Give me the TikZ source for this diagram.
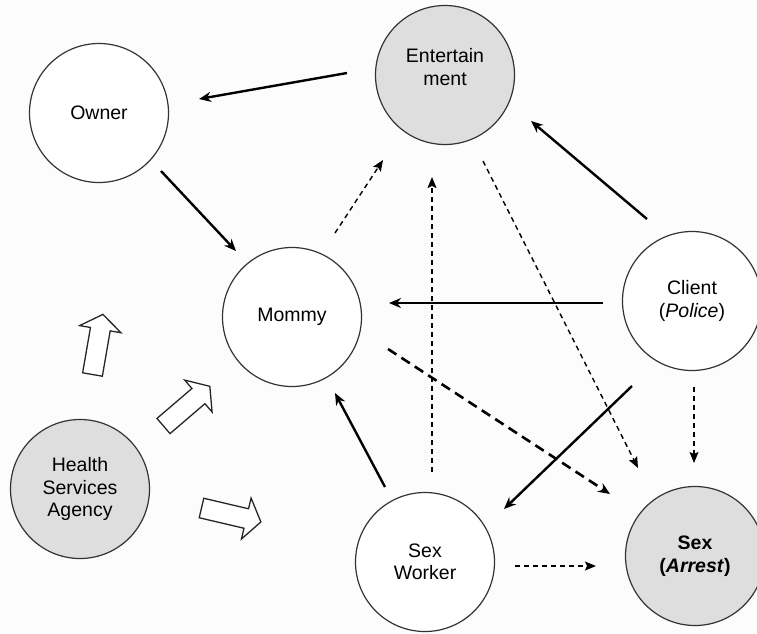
\documentclass[tikz,border=0pt]{standalone}
\usepackage{fontspec}
\setmainfont{Liberation Sans}
\usetikzlibrary{arrows.meta}
\begin{document}
\begin{tikzpicture}[x=1pt,y=-1pt,
  actor/.style={circle,draw=black!80,line width=1.2pt,minimum size=139pt,inner sep=0pt,align=center,
    font=\fontsize{19.5}{22.5}\selectfont},
  shaded/.style={actor,fill=black!13},
  plain/.style={actor,fill=white},
  solidarrow/.style={line width=2.4pt,-{Stealth[length=12pt,width=10pt]}},
  thindash/.style={line width=1.4pt,dash pattern=on 5pt off 4pt,-{Stealth[length=11pt,width=9pt,inset=2pt]}},
  thickdash/.style={line width=2.6pt,dash pattern=on 10pt off 6pt,-{Stealth[length=12pt,width=10pt]}},
  blockarrow/.style={draw=black!85,line width=1.3pt,fill=white,line join=miter}]
\useasboundingbox (0,0) rectangle (757,633);
\fill[black!1] (0,0) rectangle (757,633);

% actors
\node[plain]  (owner)  at (99,113)  {Owner};
\node[shaded] (ent)    at (445,75)  {Entertain\\ment\\[-6pt]};
\node[plain]  (mommy)  at (292,317) {Mommy};
\node[plain]  (client) at (692,301) {Client\\(\textit{Police})};
\node[shaded] (health) at (80,489)  {Health\\Services\\Agency};
\node[plain]  (worker) at (425,562) {Sex\\Worker};
\node[shaded] (sex)    at (695,556) {\textbf{Sex}\\\textbf{(\textit{Arrest})}};

% connector ends
\coordinate (c1s) at (347,73);  \coordinate (c1e) at (199,99);
\coordinate (c2s) at (161,171); \coordinate (c2e) at (236,251);
\coordinate (c3s) at (335,233); \coordinate (c3e) at (383,160);
\coordinate (c4s) at (432,472); \coordinate (c4e) at (432,177);
\coordinate (c5s) at (483,161); \coordinate (c5e) at (638,468);
\coordinate (c6s) at (647,219); \coordinate (c6e) at (531,121);
\coordinate (c7s) at (603,303); \coordinate (c7e) at (389,303);
\coordinate (c8s) at (388,349); \coordinate (c8e) at (610,494);
\coordinate (c9s) at (632,386); \coordinate (c9e) at (504,509);
\coordinate (c10s) at (694,387); \coordinate (c10e) at (694,463);
\coordinate (c11s) at (385,487); \coordinate (c11e) at (335,393);
\coordinate (c12s) at (515,566); \coordinate (c12e) at (596,566);

\draw[solidarrow] (c1s) -- (c1e);
\draw[solidarrow] (c2s) -- (c2e);
\draw[thindash] (c3s) -- (c3e);
\draw[thindash] (c4s) -- (c4e);
\draw[thindash] (c5s) -- (c5e);
\draw[solidarrow] (c6s) -- (c6e);
\draw[solidarrow] (c7s) -- (c7e);
\draw[thickdash] (c8s) -- (c8e);
\draw[solidarrow] (c9s) -- (c9e);
\draw[thindash] (c10s) -- (c10e);
\draw[solidarrow] (c11s) -- (c11e);
\draw[thindash] (c12s) -- (c12e);

% block arrows from the agency
\foreach \bx/\by/\ang in {92.5/374.5/80.2, 163.5/426/40.6, 201.5/508/-13.2}{
  \draw[blockarrow,shift={(\bx,\by)},rotate=\ang]
    (0,-10) -- (46,-10) -- (46,-21) -- (61,0) -- (46,21) -- (46,10) -- (0,10) -- cycle;
}
\end{tikzpicture}
\end{document}
